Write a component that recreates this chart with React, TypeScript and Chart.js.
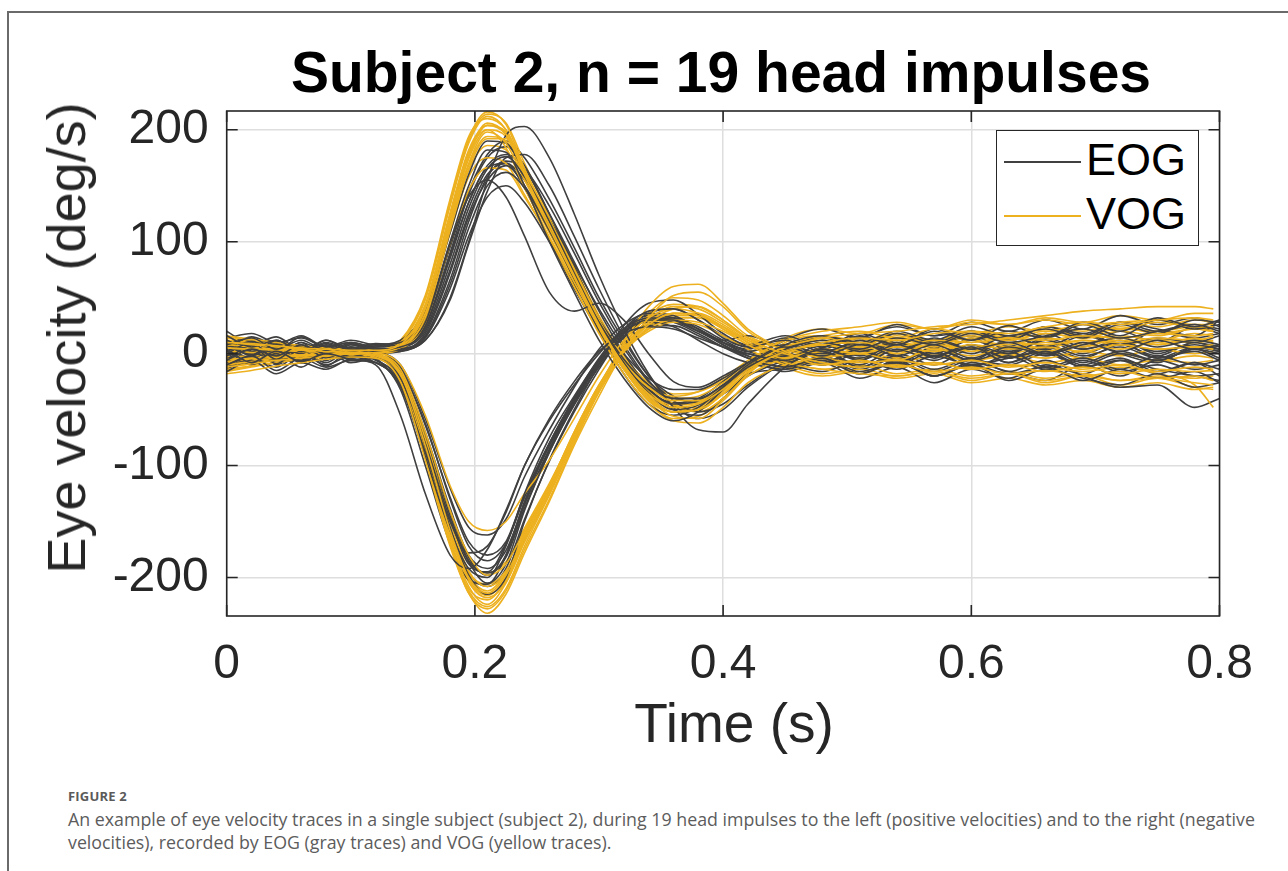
import React, { useEffect, useRef } from "react";
import { Chart, registerables } from "chart.js";

Chart.register(...registerables);

// Time samples (s)
const timeEOG = [0, 0.02, 0.04, 0.06, 0.08, 0.1, 0.12, 0.14, 0.16, 0.18, 0.195, 0.21, 0.225, 0.24, 0.26, 0.28, 0.3, 0.32, 0.34, 0.36, 0.38, 0.4, 0.42, 0.45, 0.48, 0.51, 0.54, 0.57, 0.6, 0.63, 0.66, 0.69, 0.72, 0.75, 0.78, 0.8];
const timeVOG = [0, 0.02, 0.04, 0.06, 0.08, 0.1, 0.12, 0.14, 0.16, 0.18, 0.195, 0.21, 0.225, 0.24, 0.26, 0.28, 0.3, 0.32, 0.34, 0.36, 0.38, 0.4, 0.42, 0.45, 0.48, 0.51, 0.54, 0.57, 0.6, 0.63, 0.66, 0.69, 0.72, 0.75, 0.78, 0.795];

// EOG traces, impulses to the left (positive velocities), deg/s
const eogLeft = [
  [8, 14, 4, 12, 3, 9, 4, 6, 22, 80, 130, 165, 176, 158, 118, 72, 28, -8, -35, -50, -46, -30, -12, 2, 10, 4, 14, 8, 18, 10, 16, 22, 14, 20, 26, 20],
  [-6, 4, -2, 8, 0, 6, 2, 4, 15, 62, 112, 150, 162, 148, 110, 68, 28, -5, -28, -40, -40, -28, -10, 6, -2, 8, 2, 12, 4, 10, 0, 8, 14, 6, 12, 8],
  [16, 6, 12, 2, 10, 4, 8, 10, 32, 100, 150, 182, 180, 150, 100, 55, 12, -22, -48, -60, -52, -32, -12, 8, 16, 10, 20, 12, 24, 16, 22, 14, 26, 18, 30, 28],
  [2, 11, 3, 15, 6, 10, 5, 4, 12, 50, 100, 155, 195, 203, 175, 125, 70, 22, -18, -48, -68, -70, -45, -12, 5, 15, 8, 20, 12, 25, 15, 28, 20, 32, 24, 30],
  [10, -2, 8, 0, 12, 3, 7, 8, 28, 98, 140, 155, 140, 105, 55, 38, 45, 30, 0, -25, -30, -20, -8, 4, 12, 2, 10, -2, 8, 0, 12, 4, 10, 2, 8, 4],
  [-10, -2, 6, -6, 4, -3, 2, 3, 18, 72, 122, 155, 168, 150, 112, 70, 30, 0, -22, -32, -32, -22, -10, -4, 4, -6, 6, -2, 8, -4, 4, -8, 2, -6, 4, 0],
  [5, 15, 8, 16, 6, 12, 8, 12, 38, 108, 160, 190, 188, 162, 115, 66, 20, -18, -45, -55, -48, -30, -12, 0, -8, 4, -10, 2, -12, -2, -14, -6, -16, -10, -20, -18],
  [12, 2, -5, 6, -2, 6, 1, 2, 14, 58, 105, 140, 150, 135, 100, 62, 25, -8, -32, -45, -42, -28, -12, -2, -10, 0, -8, 4, -6, 2, -12, -4, -14, -2, -10, -6],
  [-12, -3, 3, -8, 2, -4, 0, 2, 12, 48, 98, 145, 175, 178, 150, 105, 58, 15, -20, -42, -52, -45, -28, -10, -16, -6, -14, -2, -10, -4, 2, -12, -6, -18, -8, -14],
  [20, 8, 15, 3, 12, 5, 9, 8, 26, 90, 142, 175, 185, 168, 125, 78, 32, -5, -32, -44, -40, -25, -8, 12, 22, 14, 26, 16, 20, 12, 24, 18, 28, 22, 16, 30],
  [-4, 10, -8, 6, -6, 8, 3, 5, 20, 75, 125, 160, 170, 155, 120, 80, 40, 5, -25, -40, -42, -30, -14, -2, 10, -6, 12, -4, 14, 0, 18, 6, 20, 10, 24, 18],
  [6, -6, 10, -4, 8, -2, 4, 6, 24, 88, 135, 168, 178, 165, 125, 82, 38, 0, -30, -50, -55, -40, -18, -14, -4, -18, -6, -20, -8, -16, -24, -10, -20, -6, -14, -10],
  [14, 18, 10, 14, 6, 10, 6, 9, 30, 95, 145, 178, 190, 175, 138, 95, 50, 12, -20, -38, -44, -36, -20, -6, 6, 14, 24, 16, 28, 20, 30, 22, 34, 26, 32, 24],
  [-2, 6, 0, 10, 2, 8, 3, 4, 16, 66, 118, 158, 172, 165, 132, 90, 46, 8, -24, -46, -58, -50, -30, -8, 2, -12, 0, -10, 4, -8, 6, -4, 8, -2, 10, 4],
  [9, 0, 11, 1, 9, 2, 6, 7, 25, 85, 135, 166, 170, 148, 102, 58, 20, -12, -38, -52, -48, -32, -14, 4, 14, 6, 18, 8, 16, 4, 12, 0, 10, -4, 6, 2],
];

// EOG traces, impulses to the right (negative velocities), deg/s
const eogRight = [
  [4, -8, 2, -7, 0, -5, -10, -55, -125, -180, -192, -175, -140, -100, -58, -25, 2, 18, 24, 22, 14, 6, 0, -6, 4, -4, 8, -2, 6, -8, 2, -10, 0, -6, 4, -4],
  [-10, -2, -15, -4, -12, -6, -8, -30, -92, -158, -192, -200, -172, -125, -75, -38, -5, 20, 30, 30, 20, 8, -4, -12, -4, -16, -8, -20, -10, -18, -12, -24, -14, -22, -16, -26],
  [0, 10, -5, 8, -4, 4, -2, -22, -80, -148, -186, -205, -188, -140, -88, -45, -8, 22, 38, 40, 30, 14, 6, 12, 2, 10, -2, 8, -4, 6, 0, 10, 2, 12, 4, 8],
  [-16, -6, -18, -8, -14, -5, -8, -28, -88, -150, -178, -172, -142, -100, -60, -28, 0, 22, 32, 30, 20, 10, 2, 8, 0, 12, 2, 14, 4, 16, 6, 18, 8, 14, 10, 16],
  [8, -1, 12, 2, 7, -3, 2, -14, -62, -130, -172, -185, -170, -128, -80, -40, -6, 20, 28, 24, 12, 0, -8, -14, -6, -18, -8, -20, -10, -24, -14, -22, -28, -18, -30, -26],
  [-5, 7, -9, 4, -11, 2, -6, -24, -85, -155, -198, -215, -200, -150, -95, -50, -10, 25, 45, 48, 35, 18, 8, 16, 6, 18, 8, 22, 12, 20, 14, 26, 16, 30, 22, 26],
  [3, -10, 0, -12, 2, -8, -4, -18, -75, -140, -182, -198, -180, -135, -85, -42, -8, 15, 25, 25, 16, 6, 0, -8, 2, -10, 4, -6, 6, -4, 8, -2, 6, -4, 2, -6],
  [12, 2, 9, -2, 5, -2, 0, -10, -58, -120, -155, -162, -148, -110, -68, -30, 4, 26, 36, 34, 22, 8, -2, -8, 2, -12, -2, -14, -4, -16, -6, -20, -30, -28, -48, -40],
  [-8, 5, -6, 7, -3, 3, -4, -32, -100, -170, -202, -206, -180, -132, -82, -40, -4, 22, 34, 32, 22, 12, 16, 6, 16, 8, 18, 10, 20, 12, 24, 16, 28, 20, 26, 22],
  [2, 12, -2, 10, -6, 6, -3, -20, -78, -145, -185, -196, -182, -138, -88, -46, -12, 16, 30, 32, 24, 12, 2, -4, 8, -2, 10, 0, 12, 2, 14, 4, 12, 0, 10, 6],
  [-14, -4, -12, 0, -10, -2, -8, -26, -84, -150, -188, -195, -170, -128, -82, -42, -8, 18, 30, 30, 22, 10, -2, -16, -8, -22, -12, -26, -14, -22, -10, -18, -6, -14, -20, -24],
  [6, -4, 4, -8, 6, -6, -2, -16, -70, -138, -180, -192, -176, -134, -86, -44, -10, 14, 26, 28, 20, 10, 4, 14, 4, 16, 6, 10, 0, 12, 4, 16, 8, 20, 14, 18],
  [-2, 8, -10, 2, -8, 4, -5, -25, -88, -158, -196, -208, -192, -148, -96, -52, -14, 18, 36, 40, 30, 16, 6, 0, -10, 4, -8, 6, -6, 8, -2, 10, 0, -8, 6, 2],
  [10, 0, 6, -6, 4, -4, 1, -12, -64, -128, -168, -180, -168, -126, -80, -40, -6, 20, 30, 28, 18, 6, -4, -12, -2, -14, -4, -16, -6, -10, 0, -12, -4, -16, -8, -20],
];

// VOG traces, impulses to the left (positive velocities), deg/s
const vogLeft = [
  [10, 9, 7, 5, 4, 3, 3, 8, 42, 122, 178, 206, 196, 160, 115, 70, 26, -10, -36, -48, -45, -32, -14, 2, 10, 14, 12, 18, 20, 18, 24, 28, 26, 30, 32, 30],
  [-12, -9, -6, -4, -2, 0, 1, 6, 36, 115, 170, 198, 188, 155, 112, 68, 24, -12, -38, -52, -50, -36, -16, 2, 8, 10, 6, 12, 10, 14, 12, 16, 14, 18, 16, 18],
  [5, 4, 4, 3, 2, 1, 1, 5, 32, 110, 165, 192, 192, 162, 118, 74, 30, -6, -30, -42, -42, -30, -12, 6, 14, 18, 20, 24, 26, 30, 34, 38, 40, 42, 42, 40],
  [8, 6, 4, 4, 3, 3, 3, 10, 50, 135, 192, 216, 205, 165, 118, 72, 28, -12, -40, -56, -58, -42, -20, -4, 2, 6, 2, 8, 5, 10, 8, 12, 10, 14, 12, 15],
  [-5, -4, -2, -1, 0, 1, 2, 7, 40, 120, 176, 204, 198, 162, 118, 72, 28, -8, -30, -40, -38, -26, -10, 8, 16, 20, 14, 22, 18, 24, 20, 26, 22, 28, 24, 24],
  [16, 13, 10, 7, 5, 4, 3, 9, 42, 124, 180, 200, 184, 148, 104, 60, 18, -18, -45, -60, -62, -48, -26, -10, -4, 0, -6, 4, -2, 6, 2, 8, 4, 10, 6, 8],
  [-15, -11, -8, -5, -3, -1, 0, 4, 28, 98, 146, 166, 164, 140, 104, 64, 24, -8, -30, -38, -34, -22, -6, 12, 20, 24, 28, 22, 28, 26, 30, 26, 28, 30, 26, 26],
  [2, 1, 0, -1, 0, 1, 2, 10, 48, 132, 188, 212, 200, 162, 116, 70, 24, -14, -42, -52, -48, -32, -12, 4, -2, 4, 0, 8, 2, 10, 5, 12, 8, 12, 10, 12],
  [12, 10, 7, 5, 3, 2, 2, 6, 34, 108, 158, 175, 170, 142, 102, 60, 20, -14, -40, -52, -50, -36, -16, 0, 8, 6, 12, 8, 14, 12, 18, 14, 20, 16, 22, 20],
  [-8, -6, -3, -1, 1, 2, 3, 12, 52, 138, 194, 210, 200, 165, 120, 76, 32, -4, -28, -45, -52, -40, -18, 10, 16, 12, 18, 12, 20, 14, 22, 16, 24, 18, 22, 20],
  [6, 5, 4, 3, 3, 2, 2, 7, 38, 118, 174, 200, 194, 158, 114, 70, 26, -10, -34, -46, -44, -30, -12, 4, 12, 8, 16, 10, 18, 14, 20, 16, 22, 20, 24, 22],
  [-10, -8, -5, -3, -1, 0, 1, 5, 34, 112, 168, 194, 190, 158, 116, 72, 28, -8, -34, -48, -48, -34, -14, -6, 0, -4, 2, -2, 4, 0, 6, 2, 8, 4, 6, 4],
  [14, 11, 8, 6, 4, 3, 3, 11, 50, 134, 190, 214, 206, 170, 122, 76, 30, -8, -36, -50, -50, -36, -16, 6, 14, 10, 18, 12, 20, 16, 24, 20, 28, 24, 30, 28],
  [0, 1, 1, 2, 2, 2, 2, 6, 36, 112, 164, 186, 182, 150, 108, 66, 22, -14, -42, -58, -56, -40, -18, 0, -6, 0, -8, -2, -6, 0, -4, 2, -2, 4, 0, 2],
  [-16, -12, -8, -5, -2, 0, 1, 8, 44, 126, 182, 204, 196, 162, 120, 78, 34, -2, -26, -36, -34, -24, -8, 14, 22, 18, 26, 22, 30, 26, 32, 28, 34, 30, 36, 36],
];

// VOG traces, impulses to the right (negative velocities), deg/s
const vogRight = [
  [10, 8, 6, 4, 2, 1, -2, -18, -82, -158, -200, -214, -198, -162, -120, -72, -30, 4, 26, 36, 34, 24, 12, 0, -8, -12, -10, -16, -12, -18, -15, -20, -16, -22, -20, -24],
  [-18, -15, -11, -8, -5, -3, -4, -25, -95, -172, -214, -232, -215, -178, -132, -82, -38, 2, 32, 52, 55, 42, 20, 2, -10, -6, -12, -8, -14, -10, -16, -12, -18, -14, -16, -15],
  [5, 4, 3, 2, 1, 0, -1, -14, -70, -140, -180, -198, -188, -158, -118, -72, -30, 2, 22, 30, 28, 20, 8, -8, -14, -18, -20, -16, -22, -18, -24, -20, -24, -22, -26, -28],
  [-10, -7, -4, -2, -1, 0, 0, -10, -55, -118, -150, -158, -150, -125, -95, -58, -20, 12, 32, 40, 36, 24, 10, -4, 4, 0, 6, 2, 8, 4, 6, 2, 8, 4, 6, 4],
  [8, 6, 4, 3, 2, 1, -1, -20, -88, -165, -208, -224, -205, -168, -124, -76, -32, 4, 28, 40, 42, 30, 14, 2, 8, 4, 10, 6, 12, 8, 14, 10, 12, 8, 14, 10],
  [-7, -5, -3, -2, -1, -1, -3, -24, -92, -170, -212, -226, -210, -172, -126, -76, -30, 10, 42, 60, 62, 45, 22, 4, -4, -8, -6, -10, -6, -12, -8, -14, -10, -16, -12, -14],
  [15, 12, 8, 5, 3, 1, -1, -16, -76, -150, -194, -208, -196, -160, -118, -70, -28, 2, 20, 28, 26, 16, 4, -10, -18, -14, -20, -16, -24, -18, -26, -20, -28, -22, -30, -32],
  [-3, -2, -1, 0, 0, 0, -2, -19, -84, -160, -202, -216, -200, -164, -120, -74, -32, 4, 26, 36, 36, 26, 12, -4, -10, -6, -12, -8, -14, -10, -12, -16, -12, -18, -28, -48],
  [-14, -11, -8, -5, -3, -2, -3, -22, -90, -168, -210, -220, -202, -166, -122, -74, -30, 8, 34, 44, 42, 30, 14, 2, 8, 2, 10, 4, 12, 6, 10, 6, 14, 8, 12, 10],
  [12, 9, 6, 3, 1, 0, -2, -17, -80, -156, -198, -212, -196, -160, -118, -70, -28, 6, 30, 42, 40, 28, 14, 6, 12, 8, 14, 10, 16, 12, 18, 14, 16, 12, 18, 16],
  [-6, -5, -3, -2, -1, 0, -2, -20, -86, -162, -204, -218, -204, -168, -126, -78, -34, 2, 26, 36, 34, 22, 8, -6, -14, -10, -18, -14, -20, -16, -22, -18, -24, -20, -22, -20],
  [3, 2, 2, 1, 1, 0, -2, -18, -80, -155, -196, -206, -194, -162, -122, -76, -34, 0, 24, 34, 34, 24, 10, -2, 4, 0, 6, 2, 4, -2, 2, -4, 0, -6, -2, -4],
  [-12, -9, -6, -4, -2, -1, -3, -22, -92, -170, -214, -228, -212, -175, -130, -80, -34, 6, 36, 50, 48, 34, 16, 4, -2, 2, -4, 0, -6, -2, -8, -4, -10, -6, -8, -6],
  [7, 5, 4, 2, 1, 0, -2, -15, -72, -142, -184, -196, -186, -156, -116, -72, -30, 2, 22, 32, 32, 22, 10, -12, -20, -16, -22, -18, -26, -22, -28, -24, -30, -26, -32, -30],
];

const xTicks = [0, 0.2, 0.4, 0.6, 0.8];
const yTicks = [-200, -100, 0, 100, 200];
const xLimits = [0, 0.8];
const yLimits = [-234.4, 216.8];

const EOG_COLOR = "#404040";
const VOG_COLOR = "#EDB120";
const FONT = "'Liberation Sans', Arial, Helvetica, sans-serif";

const CANVAS_W = 1288;
const CANVAS_H = 780;

const boxPlugin = {
  id: "matlabBox",
  afterDatasetsDraw(chart: any) {
    const { ctx, chartArea, scales } = chart;
    const { left, right, top, bottom } = chartArea;
    const x = scales.x;
    const y = scales.y;
    ctx.save();
    ctx.strokeStyle = "#262626";
    ctx.lineWidth = 1.6;
    ctx.strokeRect(left, top, right - left, bottom - top);
    const tl = 11;
    ctx.beginPath();
    for (const v of xTicks) {
      const px = x.getPixelForValue(v);
      ctx.moveTo(px, bottom);
      ctx.lineTo(px, bottom - tl);
      ctx.moveTo(px, top);
      ctx.lineTo(px, top + tl);
    }
    for (const v of yTicks) {
      const py = y.getPixelForValue(v);
      ctx.moveTo(left, py);
      ctx.lineTo(left + tl, py);
      ctx.moveTo(right, py);
      ctx.lineTo(right - tl, py);
    }
    ctx.stroke();
    ctx.restore();
  },
};

function toPoints(times: number[], values: number[]) {
  return values.map((v, i) => ({ x: times[i], y: v }));
}

export default function App() {
  const canvasRef = useRef<HTMLCanvasElement | null>(null);

  useEffect(() => {
    if (!canvasRef.current) return;
    const datasets: any[] = [];
    const lineStyle = (color: string) => ({
      borderColor: color,
      backgroundColor: color,
      borderWidth: 1.6,
      pointRadius: 0,
      fill: false,
      cubicInterpolationMode: "monotone" as const,
    });
    const n = Math.max(eogLeft.length, eogRight.length, vogLeft.length, vogRight.length);
    for (let i = 0; i < n; i++) {
      if (vogLeft[i]) datasets.push({ label: "VOG", data: toPoints(timeVOG, vogLeft[i]), ...lineStyle(VOG_COLOR) });
      if (eogLeft[i]) datasets.push({ label: "EOG", data: toPoints(timeEOG, eogLeft[i]), ...lineStyle(EOG_COLOR) });
      if (vogRight[i]) datasets.push({ label: "VOG", data: toPoints(timeVOG, vogRight[i]), ...lineStyle(VOG_COLOR) });
      if (eogRight[i]) datasets.push({ label: "EOG", data: toPoints(timeEOG, eogRight[i]), ...lineStyle(EOG_COLOR) });
    }

    const chart = new Chart(canvasRef.current, {
      type: "line",
      data: { datasets },
      plugins: [boxPlugin],
      options: {
        animation: false,
        responsive: false,
        devicePixelRatio: 1,
        layout: { padding: { top: 111, right: CANVAS_W - 1219.5, left: 0, bottom: 0 } },
        plugins: {
          legend: { display: false },
          title: { display: false },
          tooltip: { enabled: false },
        },
        scales: {
          x: {
            type: "linear",
            min: xLimits[0],
            max: xLimits[1],
            afterFit: (s: any) => {
              s.height = CANVAS_H - 616;
            },
            afterBuildTicks: (s: any) => {
              s.ticks = xTicks.map((v) => ({ value: v }));
            },
            ticks: {
              font: { family: FONT, size: 48 },
              color: "#262626",
              padding: 20,
              maxRotation: 0,
              callback: (v: any) => String(Math.round(Number(v) * 10) / 10),
            },
            grid: { color: "#dedede", lineWidth: 1.5, drawTicks: false },
            border: { display: false },
          },
          y: {
            type: "linear",
            min: yLimits[0],
            max: yLimits[1],
            afterFit: (s: any) => {
              s.width = 226.7;
            },
            afterBuildTicks: (s: any) => {
              s.ticks = yTicks.map((v) => ({ value: v }));
            },
            ticks: {
              font: { family: FONT, size: 48 },
              color: "#262626",
              padding: 18,
              callback: (v: any) => String(v),
            },
            grid: { color: "#dedede", lineWidth: 1.5, drawTicks: false },
            border: { display: false },
          },
        },
      },
    });
    return () => chart.destroy();
  }, []);

  return (
    <div
      style={{
        position: "absolute",
        left: 0,
        top: 0,
        width: 1288,
        height: 871,
        overflow: "hidden",
        background: "#fff",
        fontFamily: FONT,
      }}
    >
      <div
        style={{
          position: "absolute",
          left: 7,
          top: 11,
          width: 1300,
          height: 900,
          borderLeft: "2px solid #6a6a6a",
          borderTop: "2px solid #6a6a6a",
        }}
      />
      <canvas
        ref={canvasRef}
        width={CANVAS_W}
        height={CANVAS_H}
        style={{ position: "absolute", left: 0, top: 0, width: CANVAS_W, height: CANVAS_H }}
      />
      <div
        style={{
          position: "absolute",
          left: 721,
          top: 44,
          transform: "translateX(-50%)",
          fontSize: 57,
          lineHeight: 1,
          fontWeight: 700,
          color: "#000",
          whiteSpace: "nowrap",
        }}
      >
        Subject 2, n = 19 head impulses
      </div>
      <div
        style={{
          position: "absolute",
          left: 66,
          top: 338,
          transform: "translate(-50%, -50%) rotate(-90deg)",
          fontSize: 54,
          lineHeight: 1,
          color: "#262626",
          whiteSpace: "nowrap",
        }}
      >
        Eye velocity (deg/s)
      </div>
      <div
        style={{
          position: "absolute",
          left: 734,
          top: 696,
          transform: "translateX(-50%)",
          fontSize: 55,
          lineHeight: 1,
          color: "#262626",
          whiteSpace: "nowrap",
        }}
      >
        Time (s)
      </div>
      <div
        style={{
          position: "absolute",
          left: 996,
          top: 130,
          width: 203,
          height: 116,
          boxSizing: "border-box",
          border: "1.6px solid #262626",
          background: "#fff",
        }}
      >
        {[
          { label: "EOG", color: EOG_COLOR, cy: 30.7 },
          { label: "VOG", color: VOG_COLOR, cy: 85 },
        ].map((item) => (
          <div key={item.label}>
            <div
              style={{
                position: "absolute",
                left: 7,
                top: item.cy - 1,
                width: 77,
                height: 0,
                borderTop: `2px solid ${item.color}`,
              }}
            />
            <div
              style={{
                position: "absolute",
                left: 89,
                top: item.cy - 25,
                fontSize: 45,
                lineHeight: 1,
                color: "#000",
                whiteSpace: "nowrap",
              }}
            >
              {item.label}
            </div>
          </div>
        ))}
      </div>
      <div
        style={{
          position: "absolute",
          left: 68,
          top: 788,
          fontFamily: "'Open Sans', 'Noto Sans', sans-serif",
          color: "#5a5a5a",
        }}
      >
        <div style={{ fontSize: 13, fontWeight: 700, letterSpacing: 0.2, lineHeight: "16px" }}>FIGURE 2</div>
        <div style={{ fontSize: 17.8, lineHeight: "23px", color: "#5c5c5c", marginTop: 4, whiteSpace: "nowrap" }}>
          An example of eye velocity traces in a single subject (subject 2), during 19 head impulses to the left (positive velocities) and to the right (negative
          <br />
          velocities), recorded by EOG (gray traces) and VOG (yellow traces).
        </div>
      </div>
    </div>
  );
}
